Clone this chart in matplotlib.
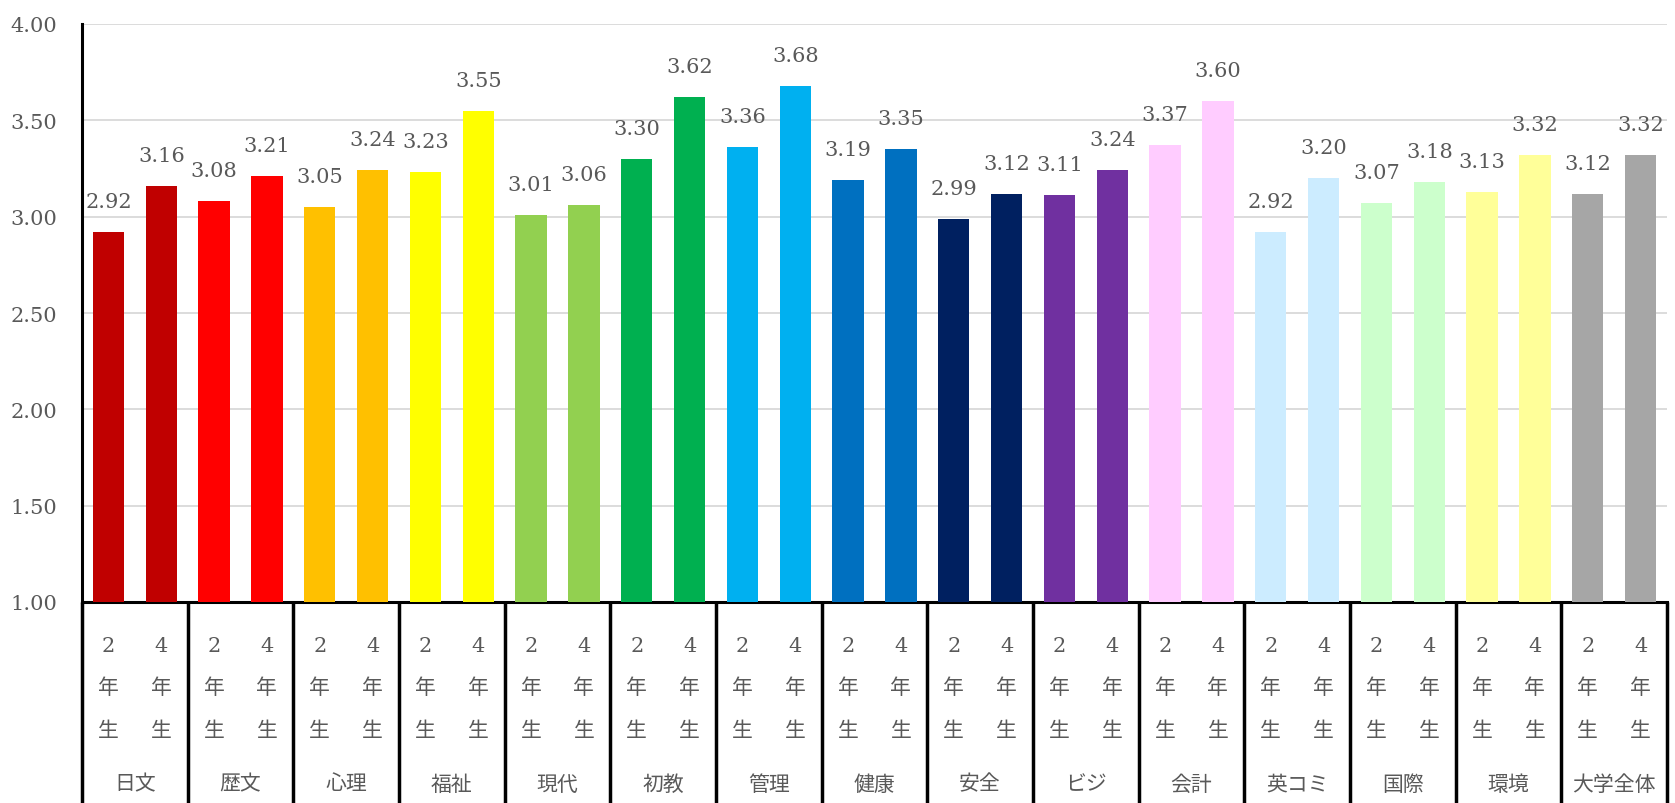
import matplotlib
matplotlib.use("Agg")
import matplotlib.pyplot as plt

departments = ["日文", "歴文", "心理", "福祉", "現代", "初教", "管理", "健康",
               "安全", "ビジ", "会計", "英コミ", "国際", "環境", "大学全体"]
year_labels = ["2年生", "4年生"]
year2 = [2.92, 3.08, 3.05, 3.23, 3.01, 3.30, 3.36, 3.19, 2.99, 3.11, 3.37, 2.92, 3.07, 3.13, 3.12]
year4 = [3.16, 3.21, 3.24, 3.55, 3.06, 3.62, 3.68, 3.35, 3.12, 3.24, 3.60, 3.20, 3.18, 3.32, 3.32]
colors = ["#C00000", "#FF0000", "#FFC000", "#FFFF00", "#92D050", "#00B050", "#00B0F0",
          "#0070C0", "#002060", "#7030A0", "#FFCCFF", "#CCECFF", "#CCFFCC", "#FFFF99", "#A6A6A6"]
yticks = [1.0, 1.5, 2.0, 2.5, 3.0, 3.5, 4.0]

FONT = ["DejaVu Serif", "Noto Sans CJK JP", "DejaVu Sans"]
TXT = "#595959"
plt.rcParams["font.family"] = FONT

W, H = 1675, 804
fig = plt.figure(figsize=(W / 100, H / 100), dpi=100)
left, right, top, bottom = 82, 1667, 25, 603
ax = fig.add_axes([left / W, (H - bottom) / H, (right - left) / W, (bottom - top) / H])
ax_h = bottom - top

xs, hs, cs = [], [], []
for i, (a, b, c) in enumerate(zip(year2, year4, colors)):
    xs += [2 * i, 2 * i + 1]
    hs += [a, b]
    cs += [c, c]

ax.bar(xs, [h - 1.0 for h in hs], bottom=1.0, width=0.59, color=cs, zorder=3)
for x, h in zip(xs, hs):
    ax.annotate(f"{h:.2f}", (x, h), xytext=(0, 18), textcoords="offset points",
                ha="center", va="baseline", fontsize=15, color=TXT)

ax.set_xlim(-0.5, len(xs) - 0.5)
ax.set_ylim(1.0, 4.0)
ax.set_yticks(yticks)
ax.set_yticklabels([f"{v:.2f}" for v in yticks])
ax.tick_params(axis="y", length=0, pad=18, labelsize=15, labelcolor=TXT)
ax.set_xticks([])
ax.yaxis.grid(True, color="#D9D9D9", linewidth=1.3, zorder=0)
for s in ["top", "right"]:
    ax.spines[s].set_visible(False)
ax.spines["left"].set_linewidth(2.2)
ax.spines["left"].set_color("black")
ax.spines["bottom"].set_linewidth(2.2)
ax.spines["bottom"].set_color("black")

tr = ax.get_xaxis_transform()
ybot = -(H - bottom) / ax_h
for k in range(len(departments) + 1):
    xb = 2 * k - 0.5
    ax.plot([xb, xb], [0, ybot], transform=tr, color="black", linewidth=2.5,
            clip_on=False, solid_capstyle="butt")

row_y = [(647 - bottom) / ax_h, (688 - bottom) / ax_h, (732 - bottom) / ax_h]
name_y = -(785 - bottom) / ax_h
for i, name in enumerate(departments):
    for j, yl in enumerate(year_labels):
        for ch, ry in zip(yl, row_y):
            ax.text(2 * i + j, -ry, ch, transform=tr, ha="center", va="center",
                    fontsize=15, color=TXT)
    ax.text(2 * i + 0.5, name_y, name, transform=tr, ha="center", va="center",
            fontsize=15, color=TXT)

fig.savefig("out.png", dpi=100)
